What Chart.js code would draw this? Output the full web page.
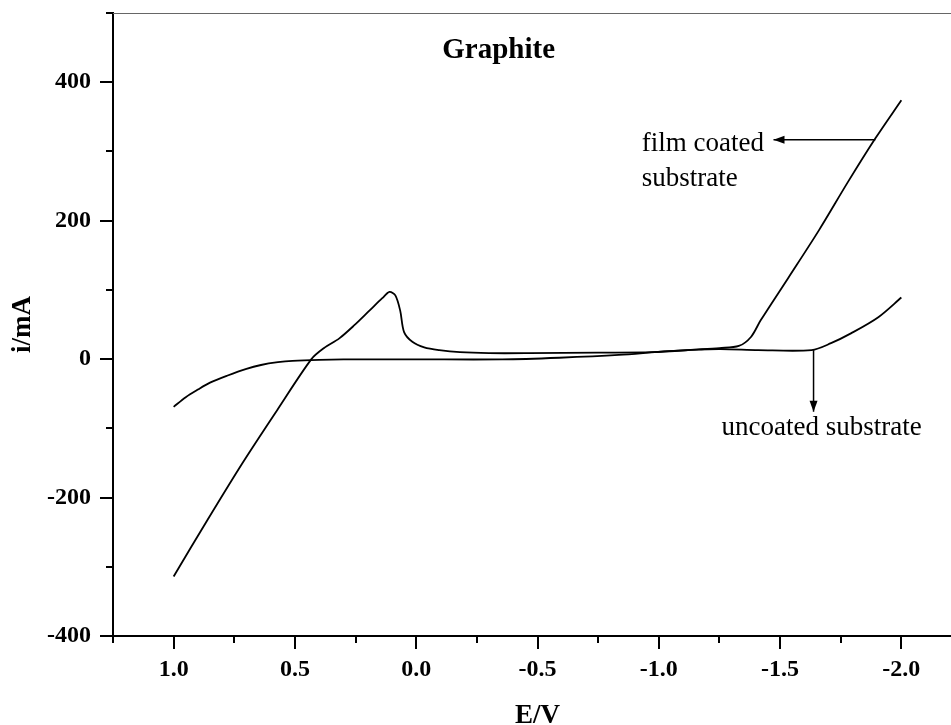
<!DOCTYPE html>
<html>
<head>
<meta charset="utf-8">
<script src="https://cdn.jsdelivr.net/npm/chart.js@4/dist/chart.umd.min.js"></script>
<style>
  body { margin: 0; background: #fff; overflow: hidden; }
  #wrap { width: 951px; height: 725px; overflow: hidden; }
</style>
</head>
<body>
<div id="wrap"><canvas id="cv" width="980" height="725"></canvas></div>
<script>
// film coated substrate curve (E/V, i/mA)
let filmE = [1.0, 0.86, 0.716, 0.572, 0.432, 0.38, 0.317, 0.255, 0.193, 0.14, 0.11, 0.086, 0.066, 0.05, 0.016,
    -0.033, -0.095, -0.18, -0.30, -0.465, -0.75, -0.97, -1.165, -1.25, -1.33, -1.38, -1.42, -1.535, -1.66, -1.78, -1.893, -2.0];
let filmI = [-314, -232, -150, -73, 0, 16, 30, 49, 70, 88, 97, 92, 70, 39, 25,
    17, 13, 10, 8.6, 8.6, 9.4, 10, 14, 16, 19, 32, 56, 118, 186, 256, 319, 374];

// uncoated substrate curve
let bareE = [1.0, 0.95, 0.9, 0.85, 0.78, 0.7, 0.64, 0.57, 0.51, 0.4, 0.3, 0.0, -0.354, -0.59, -0.835, -1.04, -1.247, -1.41, -1.63, -1.71, -1.794, -1.905, -2.0];
let bareI = [-69, -55, -44, -34, -24, -14, -8.5, -4.5, -2.5, -1, -0.5, -0.4, -0.4, 2, 6, 11.5, 14.4, 13, 13, 23, 37.5, 60.5, 89];

// axis ranges and ticks
let xMin = -2.25, xMax = 1.25, xStep = 0.25, xLabelStep = 0.5;
let yMin = -400, yMax = 500, yStep = 100, yLabelStep = 200;

const SERIF = '"Liberation Serif", "Times New Roman", serif';

function toPts(xs, ys) {
    return xs.map((x, i) => ({x: x, y: ys[i]}));
}

function isMultiple(v, step) {
    let r = v / step;
    return Math.abs(r - Math.round(r)) < 1e-6;
}

function arrow(ctx, x1, y1, x2, y2) {
    ctx.beginPath();
    ctx.moveTo(x1, y1);
    ctx.lineTo(x2, y2);
    ctx.stroke();
    let a = Math.atan2(y2 - y1, x2 - x1);
    let len = 11, w = 4;
    ctx.beginPath();
    ctx.moveTo(x2, y2);
    ctx.lineTo(x2 - len * Math.cos(a) + w * Math.sin(a), y2 - len * Math.sin(a) - w * Math.cos(a));
    ctx.lineTo(x2 - len * Math.cos(a) - w * Math.sin(a), y2 - len * Math.sin(a) + w * Math.cos(a));
    ctx.closePath();
    ctx.fill();
}

// tick marks, top line and the notes
const decor = {
    id: 'decor',
    afterDraw(chart) {
        let ctx = chart.ctx;
        let xs = chart.scales.x, ys = chart.scales.y;
        let area = chart.chartArea;
        ctx.save();

        // thin top frame line
        ctx.strokeStyle = '#666';
        ctx.lineWidth = 1;
        ctx.beginPath();
        ctx.moveTo(area.left, area.top + 0.5);
        ctx.lineTo(area.right + 20, area.top + 0.5);
        ctx.stroke();

        // ticks
        ctx.strokeStyle = '#000';
        ctx.lineWidth = 2;
        xs.ticks.forEach(t => {
            let px = Math.round(xs.getPixelForValue(t.value));
            let len = isMultiple(t.value, xLabelStep) ? 13 : 7;
            ctx.beginPath();
            ctx.moveTo(px, area.bottom);
            ctx.lineTo(px, area.bottom + len);
            ctx.stroke();
        });
        ys.ticks.forEach(t => {
            let py = Math.round(ys.getPixelForValue(t.value));
            let len = isMultiple(t.value, yLabelStep) ? 13 : 7;
            ctx.beginPath();
            ctx.moveTo(area.left, py);
            ctx.lineTo(area.left - len, py);
            ctx.stroke();
        });

        // panel title
        ctx.fillStyle = '#000';
        ctx.font = 'bold 29px ' + SERIF;
        ctx.textAlign = 'center';
        ctx.textBaseline = 'alphabetic';
        ctx.fillText('Graphite', xs.getPixelForValue(-0.34), ys.getPixelForValue(435));

        // notes
        ctx.font = '27px ' + SERIF;
        ctx.textAlign = 'left';
        ctx.fillText('film coated', xs.getPixelForValue(-0.93), ys.getPixelForValue(300));
        ctx.fillText('substrate', xs.getPixelForValue(-0.93), ys.getPixelForValue(250));
        ctx.fillText('uncoated substrate', xs.getPixelForValue(-1.259), ys.getPixelForValue(-110));

        ctx.lineWidth = 1.5;
        arrow(ctx, xs.getPixelForValue(-1.893), ys.getPixelForValue(317),
            xs.getPixelForValue(-1.473), ys.getPixelForValue(317));
        arrow(ctx, xs.getPixelForValue(-1.638), ys.getPixelForValue(13),
            xs.getPixelForValue(-1.638), ys.getPixelForValue(-76));

        ctx.restore();
    }
};

const lineStyle = {
    showLine: true,
    borderColor: '#000',
    borderWidth: 1.8,
    pointRadius: 0,
    tension: 0.3,
    fill: false
};

new Chart(document.getElementById('cv'), {
    type: 'scatter',
    data: {
        datasets: [
            Object.assign({label: 'film coated substrate', data: toPts(filmE, filmI)}, lineStyle),
            Object.assign({label: 'uncoated substrate', data: toPts(bareE, bareI)}, lineStyle)
        ]
    },
    options: {
        responsive: false,
        animation: false,
        devicePixelRatio: 1,
        layout: {padding: {top: 13, right: 18, left: 0, bottom: 0}},
        plugins: {legend: {display: false}, tooltip: {enabled: false}},
        scales: {
            x: {
                type: 'linear',
                reverse: true,
                min: xMin,
                max: xMax,
                afterFit: s => { s.height = 89; s.paddingLeft = 0; s.paddingRight = 0; },
                grid: {display: false, drawTicks: false},
                border: {display: true, color: '#000', width: 2},
                ticks: {
                    stepSize: xStep,
                    autoSkip: false,
                    maxRotation: 0,
                    padding: 19,
                    color: '#000',
                    font: {family: SERIF, size: 24, weight: 'bold'},
                    callback: v => isMultiple(v, xLabelStep) ? v.toFixed(1) : ''
                },
                title: {
                    display: true,
                    text: 'E/V',
                    color: '#000',
                    font: {family: SERIF, size: 27, weight: 'bold', lineHeight: 0.7},
                    padding: {top: 0, bottom: 0}
                }
            },
            y: {
                type: 'linear',
                min: yMin,
                max: yMax,
                afterFit: s => { s.width = 113; s.paddingTop = 0; s.paddingBottom = 0; },
                grid: {display: false, drawTicks: false},
                border: {display: true, color: '#000', width: 2},
                ticks: {
                    stepSize: yStep,
                    autoSkip: false,
                    padding: 22,
                    color: '#000',
                    font: {family: SERIF, size: 24, weight: 'bold'},
                    callback: v => isMultiple(v, yLabelStep) ? String(v) : ''
                },
                title: {
                    display: true,
                    text: 'i/mA',
                    color: '#000',
                    font: {family: SERIF, size: 27, weight: 'bold', lineHeight: 1},
                    padding: {top: 10, bottom: 0}
                }
            }
        }
    },
    plugins: [decor]
});
</script>
</body>
</html>
